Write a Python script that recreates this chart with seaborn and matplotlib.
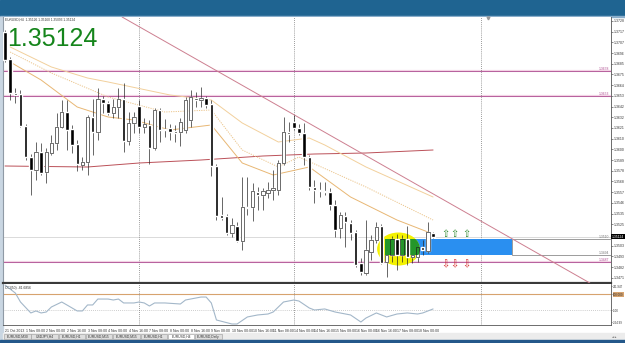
"""
EURUSD H4 - MT4 風格 K 線圖重繪
"""
import matplotlib
matplotlib.use("Agg")
import matplotlib.pyplot as plt
from matplotlib.patches import Rectangle, Ellipse
import numpy as np
import seaborn as sns

sns.set_style("white")
plt.rcParams['font.family'] = ['Liberation Sans', 'DejaVu Sans']
plt.rcParams['axes.unicode_minus'] = False

# ---------------- data ----------------
opens = [1.3717, 1.3690, 1.3656, 1.3655, 1.3623, 1.3592, 1.3579, 1.3597, 1.3577, 1.3596,
         1.3606, 1.3622, 1.3637, 1.3620, 1.3605, 1.3584, 1.3587, 1.3632, 1.3617, 1.3650,
         1.3646, 1.3636, 1.3642, 1.3650, 1.3608, 1.3626, 1.3643, 1.3622, 1.3624, 1.3601,
         1.3639, 1.3620, 1.3621, 1.3618, 1.3617, 1.3619, 1.3629, 1.3651, 1.3649, 1.3651,
         1.3645, 1.3583, 1.3534, 1.3533, 1.3516, 1.3523, 1.3508, 1.3542, 1.3542, 1.3557,
         1.3554, 1.3556, 1.3559, 1.3559, 1.3586, 1.3617, 1.3627, 1.3621, 1.3616, 1.3592,
         1.3562, 1.3559, 1.3558, 1.3557, 1.3544, 1.3521, 1.3533, 1.3526, 1.3517, 1.3486,
         1.3476, 1.3497, 1.3509, 1.3523, 1.3487, 1.3494, 1.3510, 1.3494, 1.3510, 1.3492,
         1.3492, 1.3502, 1.3498, 1.3516]
highs = [1.3719, 1.3692, 1.3661, 1.3659, 1.3625, 1.3595, 1.3607, 1.3606, 1.3601, 1.3614,
         1.3636, 1.3649, 1.3649, 1.3624, 1.3609, 1.3592, 1.3634, 1.3650, 1.3661, 1.3653,
         1.3648, 1.3650, 1.3661, 1.3666, 1.3637, 1.3637, 1.3649, 1.3631, 1.3629, 1.3641,
         1.3641, 1.3630, 1.3625, 1.3624, 1.3631, 1.3652, 1.3659, 1.3657, 1.3662, 1.3653,
         1.3649, 1.3585, 1.3552, 1.3535, 1.3531, 1.3527, 1.3572, 1.3572, 1.3566, 1.3562,
         1.3561, 1.3567, 1.3579, 1.3589, 1.3632, 1.3627, 1.3634, 1.3625, 1.3626, 1.3594,
         1.3569, 1.3567, 1.3567, 1.3561, 1.3549, 1.3537, 1.3537, 1.3529, 1.3519, 1.3491,
         1.3529, 1.3514, 1.3527, 1.3525, 1.3504, 1.3513, 1.3515, 1.3514, 1.3523, 1.3499,
         1.3504, 1.3509, 1.3527, 1.3517]
lows = [1.3687, 1.3649, 1.3646, 1.3622, 1.3589, 1.3554, 1.3569, 1.3574, 1.3566, 1.3594,
        1.3599, 1.3621, 1.3599, 1.3596, 1.3578, 1.3579, 1.3574, 1.3594, 1.3609, 1.3636,
        1.3634, 1.3631, 1.3631, 1.3597, 1.3604, 1.3616, 1.3616, 1.3616, 1.3585, 1.3599,
        1.3607, 1.3612, 1.3609, 1.3607, 1.3603, 1.3616, 1.3622, 1.3642, 1.3642, 1.3641,
        1.3573, 1.3529, 1.3529, 1.3514, 1.3512, 1.3507, 1.3499, 1.3534, 1.3528, 1.3539,
        1.3539, 1.3551, 1.3549, 1.3554, 1.3584, 1.3607, 1.3619, 1.3614, 1.3584, 1.3559,
        1.3546, 1.3552, 1.3554, 1.3539, 1.3512, 1.3511, 1.3502, 1.3509, 1.3482, 1.3474,
        1.3474, 1.3489, 1.3506, 1.3485, 1.3472, 1.3487, 1.3479, 1.3487, 1.3484, 1.3486,
        1.3487, 1.3494, 1.3496, 1.3511]
closes = [1.3689, 1.3656, 1.3654, 1.3623, 1.3592, 1.3579, 1.3597, 1.3576, 1.3597, 1.3606,
          1.3622, 1.3637, 1.3619, 1.3604, 1.3585, 1.3587, 1.3632, 1.3617, 1.3650, 1.3646,
          1.3636, 1.3642, 1.3650, 1.3608, 1.3626, 1.3632, 1.3622, 1.3625, 1.3601, 1.3639,
          1.3619, 1.3619, 1.3617, 1.3616, 1.3627, 1.3649, 1.3652, 1.3649, 1.3651, 1.3644,
          1.3583, 1.3533, 1.3531, 1.3516, 1.3524, 1.3508, 1.3542, 1.3541, 1.3558, 1.3554,
          1.3558, 1.3559, 1.3561, 1.3586, 1.3617, 1.3615, 1.3621, 1.3616, 1.3592, 1.3562,
          1.3559, 1.3558, 1.3557, 1.3544, 1.3519, 1.3534, 1.3527, 1.3516, 1.3484, 1.3477,
          1.3499, 1.3509, 1.3522, 1.3486, 1.3494, 1.3510, 1.3494, 1.3510, 1.3492, 1.3494,
          1.3502, 1.3499, 1.3517, 1.3512]

# moving-average style lines (bar index, price)
band_up_idx = [1, 9, 16, 20, 32, 40, 46, 53, 59, 62, 70, 83]
band_up = [1.3702, 1.3682, 1.3671, 1.3667, 1.3654, 1.3649, 1.3626, 1.3607, 1.3611, 1.3604, 1.3582, 1.3552]
band_mid_idx = [1, 9, 20, 31, 40, 46, 53, 57, 70, 83]
band_mid = [1.3697, 1.3676, 1.3652, 1.3637, 1.3639, 1.3599, 1.3582, 1.3592, 1.3562, 1.3529]
band_lo_idx = [1, 7, 14, 20, 25, 32, 40, 46, 52, 59, 67, 76, 82]
band_lo = [1.3687, 1.3669, 1.3642, 1.3632, 1.3629, 1.3619, 1.3624, 1.3586, 1.3574, 1.3582, 1.3552, 1.3529, 1.3517]
ma_long_idx = [0, 16, 26, 38, 50, 60, 70, 83]
ma_long = [1.3583, 1.3582, 1.3586, 1.3589, 1.3593, 1.3595, 1.3596, 1.3599]

# drawn objects
trend_idx = [22.7, 113.4]
trend_px = [1.3732, 1.3466]
magenta_levels = [1.3678, 1.3653, 1.3487]
bid = 1.35124
zone_x0, zone_x1 = 73.7, 98.3
zone_hi, zone_lo = 1.3510, 1.3494
ell_x, ell_y, ell_w, ell_h = 76.3, 1.3500, 8.3, 0.0033
arrow_idx = [85.3, 87.2, 89.4]
arrow_up_px, arrow_dn_px = 1.3515, 1.3485
sep_idx = [26, 56, 92.3]

# CCI(50)
cci_idx = [0, 2, 3, 5, 6, 7, 8, 9, 11, 12, 14, 15, 16, 17, 18, 20, 21, 22, 23, 25,
           26, 27, 28, 29, 31, 34, 35, 38, 39, 40, 41, 44, 45, 47, 49, 51, 52, 54, 56, 57,
           59, 60, 62, 64, 67, 69, 70, 72, 74, 76, 78, 80, 81, 83]
cci_val = [212, 112, 0, -137, -112, -137, -125, -62, 0, -37, -112, -112, -37, -37, 37, 37, 25, 37, -12, -12,
           0, -12, -50, -12, -12, -25, 25, 62, 62, -12, -225, -275, -275, -187, -162, -150, -125, 0, 25, 12,
           -75, -100, -87, -125, -162, -250, -200, -137, -187, -150, -137, -150, -137, -87]

time_labels = ["21 Oct 2013", "1 Nov 08:00", "2 Nov 00:00", "2 Nov 16:00", "3 Nov 08:00",
               "4 Nov 00:00", "4 Nov 16:00", "7 Nov 08:00", "8 Nov 00:00", "8 Nov 16:00",
               "9 Nov 08:00", "10 Nov 00:00", "10 Nov 16:00", "11 Nov 08:00", "14 Nov 00:00",
               "14 Nov 16:00", "15 Nov 08:00", "16 Nov 00:00", "16 Nov 16:00", "17 Nov 08:00",
               "18 Nov 00:00"]
time_label_idx = list(range(0, 84, 4))
tab_names = ["EURUSD,M30", "USDJPY,H4", "EURUSD,H1", "EURUSD,M15", "EURUSD,M15",
             "EURUSD,H1", "EURUSD,H4", "EURUSD,Daily"]
active_tab = 6

# ---------------- layout ----------------
W, H = 625, 343
XL = (-0.39, 117.5)


def px_rect(x0, y0, x1, y1):
    return [x0 / W, 1 - y1 / H, (x1 - x0) / W, (y1 - y0) / H]


fig = plt.figure(figsize=(W / 100, H / 100), dpi=100)
fig.patch.set_facecolor("white")

bg = fig.add_axes([0, 0, 1, 1])
bg.set_xlim(0, W); bg.set_ylim(H, 0); bg.axis("off")
bg.add_patch(Rectangle((0, 0), W, 16, color="#1f6491"))
bg.add_patch(Rectangle((0, 15.5), W, 1.2, color="#8aaecb"))
bg.add_patch(Rectangle((0, 16.5), 3, 327, color="#c9d6e2"))
bg.add_patch(Rectangle((3, 333), W - 3, 7, color="#ececec"))
bg.add_patch(Rectangle((0, 340), W, 3, color="#24588a"))
for k, name in enumerate(tab_names):
    x0 = 4 + k * 27.3
    bg.add_patch(Rectangle((x0, 333.6), 26.5, 5.8,
                           facecolor="white" if k == active_tab else "#dedede",
                           edgecolor="#9a9a9a", lw=0.4))
    bg.text(x0 + 13.2, 336.6, name, fontsize=2.4, ha="center", va="center", color="#333")
bg.text(614, 336.5, "◂ ▸", fontsize=2.5, ha="center", va="center", color="#555")

# ---------------- main chart ----------------
ax = fig.add_axes(px_rect(3, 17, 611, 283))
ax.set_xlim(*XL)
ax.set_ylim(1.3466, 1.3732)

o, h, l, c = map(np.array, (opens, highs, lows, closes))
idx = np.arange(len(o))
up = c >= o
bw = 0.66
body = np.maximum(np.abs(c - o), 0.00012)

ax.add_patch(Rectangle((zone_x0, zone_lo), zone_x1 - zone_x0, zone_hi - zone_lo,
                       facecolor="#2a8ff0", edgecolor="none", zorder=1.5))
ax.add_patch(Rectangle((zone_x1, zone_lo), 40, zone_hi - zone_lo,
                       facecolor="white", edgecolor="#8c8c8c", lw=0.6, zorder=1.5))
ell = Ellipse((ell_x, ell_y), ell_w, ell_h, facecolor="#f4f200", edgecolor="none", zorder=2)
ax.add_patch(ell)

for lv in magenta_levels:
    ax.axhline(lv, color="#f3d3e4", lw=1.6, zorder=1)
    ax.axhline(lv, color="#ad4e92", lw=0.6, zorder=1.1)
    ax.text(XL[1] - 0.4, lv, f"{lv:.4f}", fontsize=2.4, color="#b04c90", ha="right", va="bottom")
ax.axhline(bid, color="#cccccc", lw=0.5, zorder=1)
ax.text(XL[1] - 0.4, zone_hi, f"{zone_hi:.4f}", fontsize=2.4, color="#777", ha="right", va="bottom")
ax.text(XL[1] - 0.4, zone_lo, f"{zone_lo:.4f}", fontsize=2.4, color="#777", ha="right", va="bottom")
for s in sep_idx:
    ax.axvline(s, color="#7a7a7a", lw=0.6, ls=(0, (1, 1.5)), zorder=1)

sns.lineplot(x=ma_long_idx, y=ma_long, ax=ax, color="#bb5058", linewidth=0.7, zorder=2.5)
sns.lineplot(x=band_up_idx, y=band_up, ax=ax, color="#f2d09c", linewidth=0.7, zorder=2.5)
sns.lineplot(x=band_mid_idx, y=band_mid, ax=ax, color="#ebc48a", linewidth=0.7,
             linestyle=(0, (1.2, 1.2)), zorder=2.5)
sns.lineplot(x=band_lo_idx, y=band_lo, ax=ax, color="#e8b774", linewidth=0.7, zorder=2.5)
ax.plot(trend_idx, trend_px, color="#cd7f90", lw=0.7, zorder=2.6)

ax.vlines(idx, l, h, color="#2a2a2a", lw=0.5, zorder=2.9)
ax.bar(idx[up], body[up], bottom=o[up], width=bw, color="white", zorder=3)
green = Rectangle((zone_x0, zone_lo), zone_x1 - zone_x0, zone_hi - zone_lo,
                  facecolor="#25962a", edgecolor="none", zorder=3.5)
ax.add_patch(green)
green.set_clip_path(ell)
ax.bar(idx[up], body[up], bottom=o[up], width=bw, facecolor="none",
       edgecolor="#1a1a1a", lw=0.45, zorder=5)
ax.bar(idx[~up], body[~up], bottom=c[~up], width=bw, color="black", zorder=5)

for xa in arrow_idx:
    ax.text(xa, arrow_up_px, "⇧", fontsize=7, color="#2d8a2d", ha="center", va="center", zorder=6)
    ax.text(xa, arrow_dn_px, "⇩", fontsize=7, color="#d42a2a", ha="center", va="center", zorder=6)

ax.plot(93.7, 1.37305, marker="v", ms=2, color="#9a9a9a", clip_on=False)
ax.text(0.006, 0.963, f"{bid:.5f}", transform=ax.transAxes, fontsize=18,
        color="#15851b", ha="left", va="top")
ax.text(0.004, 0.998, "EURUSD,H4  1.35126 1.35160 1.35093 1.35124", transform=ax.transAxes,
        fontsize=2.3, color="#333", ha="left", va="top")

ax.yaxis.tick_right()
yt = [v for v in np.arange(1.3728, 1.3466, -0.00107) if abs(v - bid) > 0.0004]
ax.set_yticks(yt)
ax.set_yticklabels([f"{v:.4f}" for v in yt])
ax.tick_params(axis="y", labelsize=2.5, length=1.5, width=0.4, pad=0.8, colors="#333")
ax.set_xticks([])
ax.text(1.002, bid, f"{bid:.5f}", transform=ax.get_yaxis_transform(), fontsize=2.4,
        color="white", ha="left", va="center",
        bbox=dict(facecolor="black", edgecolor="none", pad=0.6))
ax.spines["top"].set_visible(False)
ax.spines["left"].set_color("#8f9aa5")
ax.spines["right"].set_color("#555")
ax.spines["right"].set_linewidth(0.6)
ax.spines["bottom"].set_color("#3a3a3a")
ax.spines["bottom"].set_linewidth(1.6)
ax.set_xlabel(""); ax.set_ylabel("")

# ---------------- CCI panel ----------------
ai = fig.add_axes(px_rect(3, 284, 611, 325))
ai.set_xlim(*XL)
ai.set_ylim(-287.5, 225)
ai.axhline(100, color="#d7a36e", lw=0.8)
ai.axhline(-100, color="#bdbdbd", lw=0.6, ls=(0, (1, 1.5)))
for s in sep_idx:
    ai.axvline(s, color="#7a7a7a", lw=0.6, ls=(0, (1, 1.5)))
sns.lineplot(x=cci_idx, y=cci_val, ax=ai, color="#a3b7c9", linewidth=0.8)
ai.text(0.004, 0.95, "CCI(50) -81.6856", transform=ai.transAxes, fontsize=2.4,
        color="#333", ha="left", va="top")
ai.yaxis.tick_right()
ai.set_yticks([200, 100, -100, -255])
ai.set_yticklabels(["211.947", "100.000", "-100", "-264.99"])
ai.tick_params(axis="y", labelsize=2.1, length=1.0, width=0.4, pad=0.5, colors="#333")
ai.get_yticklabels()[1].set_bbox(dict(facecolor="#d7a36e", edgecolor="none", pad=0.3))
ai.set_xticks(time_label_idx)
ai.set_xticklabels(time_labels, ha="left")
ai.tick_params(axis="x", labelsize=2.5, length=2.5, width=0.4, pad=0.6, colors="#333")
ai.set_xlabel(""); ai.set_ylabel("")
ai.spines["top"].set_visible(False)
ai.spines["left"].set_color("#8f9aa5")
ai.spines["right"].set_color("#555")
ai.spines["right"].set_linewidth(0.6)
ai.spines["bottom"].set_color("#555")
ai.spines["bottom"].set_linewidth(0.6)

fig.savefig("out.png", dpi=100)
